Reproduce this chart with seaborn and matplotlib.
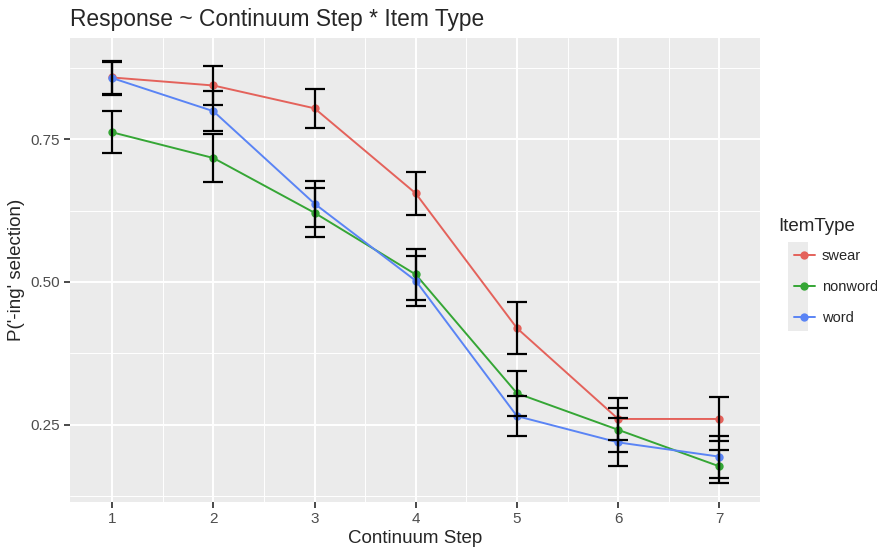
import matplotlib.pyplot as plt
from matplotlib.patches import Rectangle
import seaborn as sns
import pandas as pd

# valores
passos = [1, 2, 3, 4, 5, 6, 7]
swear = [0.858, 0.844, 0.804, 0.655, 0.419, 0.260, 0.260]
swear_err = [0.029, 0.034, 0.034, 0.038, 0.045, 0.037, 0.039]
nonword = [0.762, 0.717, 0.621, 0.513, 0.305, 0.241, 0.177]
nonword_err = [0.037, 0.042, 0.043, 0.044, 0.039, 0.038, 0.029]
word = [0.857, 0.799, 0.637, 0.502, 0.265, 0.219, 0.194]
word_err = [0.029, 0.035, 0.040, 0.044, 0.035, 0.042, 0.037]

tipos = ['swear', 'nonword', 'word']
cores = {'swear': '#E4625B', 'nonword': '#35A635', 'word': '#5A84F5'}

df = pd.DataFrame({
    'Continuum Step': passos * 3,
    'Resp': swear + nonword + word,
    'Erro': swear_err + nonword_err + word_err,
    'ItemType': [t for t in tipos for _ in passos],
})

sns.set_theme(style='darkgrid', rc={
    'axes.facecolor': '#EBEBEB',
    'grid.color': 'white',
    'axes.edgecolor': '#EBEBEB',
})
plt.rcParams['font.family'] = ['Liberation Sans', 'DejaVu Sans']

fig = plt.figure(figsize=(8.77, 5.52), dpi=100)
ax = fig.add_axes([0.080, 0.091, 0.787, 0.840])

sns.lineplot(data=df, x='Continuum Step', y='Resp', hue='ItemType', hue_order=tipos,
             palette=cores, marker='o', markersize=6, markeredgewidth=0,
             linewidth=1.4, ax=ax, zorder=2)

for t in tipos:
    sub = df[df['ItemType'] == t]
    ax.errorbar(sub['Continuum Step'], sub['Resp'], yerr=sub['Erro'], fmt='none',
                ecolor='black', elinewidth=1.6, capsize=7.5, capthick=1.6, zorder=3)

ax.set_xlim(0.585, 7.405)
ax.set_ylim(0.115, 0.927)
ax.set_xticks(passos)
ax.set_yticks([0.25, 0.50, 0.75])
ax.set_yticklabels(['0.25', '0.50', '0.75'])
ax.set_xticks([1.5, 2.5, 3.5, 4.5, 5.5, 6.5], minor=True)
ax.set_yticks([0.125, 0.375, 0.625, 0.875], minor=True)
ax.grid(which='major', color='white', linewidth=1.4)
ax.grid(which='minor', color='white', linewidth=0.7)
ax.tick_params(which='major', length=4, color='#333333', labelsize=11, labelcolor='#4D4D4D', left=True, bottom=True)
ax.tick_params(which='minor', length=0)
for s in ax.spines.values():
    s.set_visible(False)

ax.set_title('Response ~ Continuum Step * Item Type', loc='left', fontsize=16.4, pad=9)
ax.set_xlabel('Continuum Step', fontsize=13.5, labelpad=3)
ax.set_ylabel("P('-ing' selection)", fontsize=13.5, labelpad=4)

handles, labels = ax.get_legend_handles_labels()
ax.get_legend().remove()
leg = fig.legend(handles, labels, loc='upper left',
                 bbox_to_anchor=(781 / 877, 1 - 236 / 552), frameon=False,
                 fontsize=10.5, handlelength=1.4, labelspacing=1.15, handletextpad=0.5)
fig.text(778 / 877, 1 - 227 / 552, 'ItemType', fontsize=13.5, va='center', ha='left')

# fundo cinza das chaves da legenda
fig.patches.append(Rectangle((788 / 877, 1 - 331 / 552), 20 / 877, 89 / 552,
                             transform=fig.transFigure, facecolor='#EBEBEB',
                             edgecolor='none', zorder=0))

plt.savefig('out.png', dpi=100)
